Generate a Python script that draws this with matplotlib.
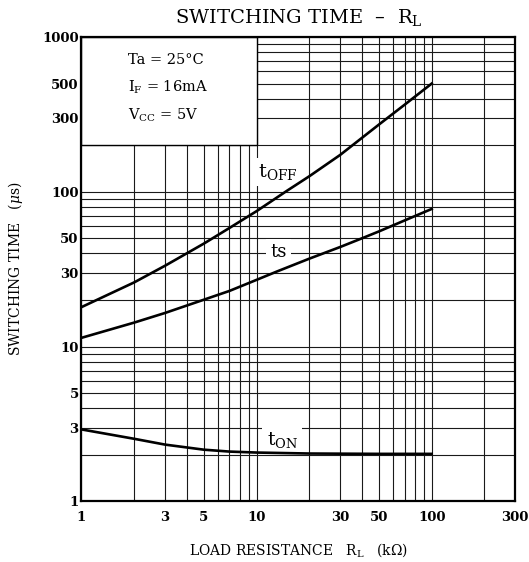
import numpy as np
from matplotlib import pyplot as plt
from matplotlib import ticker
from matplotlib.patches import Rectangle

# values
rl_off = [1, 2, 3, 5, 7, 10, 15, 20, 30, 50, 70, 100]
t_off = [18, 26, 33.3, 46.3, 58.4, 75, 102, 126, 173, 272, 365, 500]

rl_s = [1, 2, 3, 5, 7, 10, 13, 20, 30, 40, 50, 70, 100]
t_s = [11.4, 14.3, 16.5, 20.1, 22.9, 27, 30.5, 37, 44, 50.1, 55.5, 65.3, 77.5]

rl_on = [1, 2, 3, 5, 7, 10, 20, 50, 100]
t_on = [2.92, 2.54, 2.33, 2.16, 2.10, 2.07, 2.04, 2.03, 2.03]

x_ticks = [1, 3, 5, 10, 30, 50, 100, 300]
y_ticks = [1, 3, 5, 10, 30, 50, 100, 300, 500, 1000]

conditions = ["Ta = 25°C", r"I$_\mathregular{F}$ = 16mA", r"V$_\mathregular{CC}$ = 5V"]

plt.rcParams['font.family'] = ['DejaVu Serif']
plt.rcParams['mathtext.fontset'] = 'dejavuserif'

fig = plt.figure(figsize=(5.29, 5.62), dpi=100)
ax = fig.add_axes([0.154, 0.1077, 0.820, 0.8265])
ax.set_xscale('log')
ax.set_yscale('log')
ax.set_xlim(1, 300)
ax.set_ylim(1, 1000)

# grid at every 1..9 of each decade
ax.xaxis.set_minor_locator(ticker.LogLocator(base=10, subs=np.arange(1, 10)))
ax.yaxis.set_minor_locator(ticker.LogLocator(base=10, subs=np.arange(1, 10)))
ax.xaxis.set_minor_formatter(ticker.NullFormatter())
ax.yaxis.set_minor_formatter(ticker.NullFormatter())
ax.set_xticks(x_ticks, [str(v) for v in x_ticks])
ax.set_yticks(y_ticks, [str(v) for v in y_ticks])
ax.set_axisbelow(True)
ax.grid(which='both', color='#1a1a1a', lw=0.8)
ax.tick_params(which='both', length=0)
ax.tick_params(axis='y', pad=2, labelsize=9.5)
ax.tick_params(axis='x', pad=7, labelsize=9.5)
for lab in ax.get_xticklabels() + ax.get_yticklabels():
    lab.set_fontweight('bold')
for s in ax.spines.values():
    s.set_linewidth(1.6)

# condition box in the top-left corner
ax.add_patch(Rectangle((1, 200), 9, 800, facecolor='white', edgecolor='black',
                       lw=1.0, zorder=1))
for txt, yv in zip(conditions, [711, 476, 314]):
    ax.text(1.84, yv, txt, fontsize=10.5, va='center', ha='left', zorder=3)

ax.plot(rl_off, t_off, color='black', lw=1.9, zorder=4)
ax.plot(rl_s, t_s, color='black', lw=1.9, zorder=4)
ax.plot(rl_on, t_on, color='black', lw=1.9, zorder=4)

box = dict(facecolor='white', edgecolor='none', pad=3)
ax.text(13.25, 135, r'$\mathregular{t_{OFF}}$', fontsize=14, ha='center', va='center',
        bbox=box, zorder=3)
ax.text(13.4, 41, 'ts', fontsize=13, ha='center', va='center', bbox=box, zorder=3)
ax.text(14.0, 2.51, r'$\mathregular{t_{ON}}$', fontsize=13.5, ha='center', va='center',
        bbox=box, zorder=3)

ax.set_title(r'SWITCHING TIME  –  R$_\mathregular{L}$', fontsize=14, pad=10)
ax.set_xlabel(r'LOAD RESISTANCE   R$_\mathregular{L}$   (k$\Omega$)', fontsize=10, labelpad=12)
ax.set_ylabel(r'SWITCHING TIME   ($\mu$s)', fontsize=10, labelpad=12)

fig.savefig('out.png', dpi=100)
